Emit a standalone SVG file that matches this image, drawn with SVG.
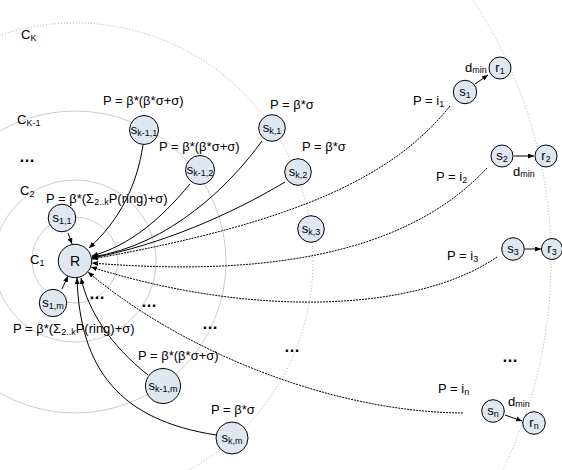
<svg xmlns="http://www.w3.org/2000/svg" width="562" height="470" viewBox="0 0 562 470">
<style>
text{font-family:"Liberation Sans",Arial,sans-serif;fill:#000;}
.lbl{font-size:13px;}
.sub{font-size:9px;}
.node{fill:#dfe7f3;stroke:#000;stroke-width:1;}
.nt{font-size:13px;text-anchor:middle;}
.ring{fill:none;stroke:#cccccc;stroke-width:1;}
.dring{fill:none;stroke:#a8a8a8;stroke-width:1;stroke-dasharray:1 2;}
.solid{fill:none;stroke:#000;stroke-width:1;marker-end:url(#ah);}
.dot{fill:none;stroke:#000;stroke-width:1;stroke-dasharray:2 1;marker-end:url(#ah);}
.dots{font-size:16px;font-weight:bold;}
</style>
<defs>
<marker id="ah" markerWidth="6" markerHeight="5" refX="6" refY="2.5" orient="auto" markerUnits="userSpaceOnUse">
<path d="M0,0 L6,2.5 L0,5 z" fill="#000"/>
</marker>
</defs>
<rect width="562" height="470" fill="#fff"/>
<g id="rings">
<circle class="ring" cx="75" cy="260" r="43"/>
<circle class="ring" cx="75" cy="261" r="81"/>
<circle class="ring" cx="75" cy="262" r="151"/>
<circle class="dring" cx="75" cy="261" r="238"/>
<circle class="dring" cx="75" cy="261" r="476"/>
</g>
<g id="ring-labels">
<text class="lbl" x="21" y="39">C<tspan class="sub" dy="2">K</tspan></text>
<text class="lbl" x="17" y="124">C<tspan class="sub" dy="2">K-1</tspan></text>
<text class="lbl" x="20" y="195">C<tspan class="sub" dy="2">2</tspan></text>
<text class="lbl" x="30" y="264">C<tspan class="sub" dy="2">1</tspan></text>
<text class="dots" x="19" y="162">…</text>
<text class="dots" x="89" y="299">…</text>
<text class="dots" x="141" y="307">…</text>
<text class="dots" x="202" y="329">…</text>
<text class="dots" x="284" y="352">…</text>
<text class="dots" x="502" y="362">…</text>
</g>
<g id="connectors">
<path class="solid" d="M143,145 C137,185 120,220 89,248"/>
<path class="solid" d="M190,184 C160,220 130,245 92,256"/>
<path class="solid" d="M262,141 C230,185 170,245 92,257"/>
<path class="solid" d="M285,182 C230,215 160,245 92,258"/>
<path class="dot" d="M450,106 C395,175 300,222 92,259"/>
<path class="dot" d="M487,168 C420,240 300,280 92,263"/>
<path class="dot" d="M497,257 C420,310 260,320 91,267"/>
<path class="dot" d="M463,413 C330,412 180,350 88,272"/>
<path class="solid" d="M148,375 C110,345 88,310 81,278"/>
<path class="solid" d="M216,435 C120,420 80,370 77,278"/>
<path class="solid" d="M68,233 L72,244"/>
<path class="solid" d="M62,289 L68,276"/>
<path class="solid" d="M475,84 L488,75"/>
<path class="solid" d="M514,156 L534,156"/>
<path class="solid" d="M525,249 L541,249"/>
<path class="solid" d="M505,415 L522,421"/>
</g>
<g id="R"><circle class="node" cx="75" cy="261" r="16.7"/><text class="nt" x="75" y="266" style="font-size:14px">R</text></g>
<g id="s11"><circle class="node" cx="62" cy="218" r="13.8"/><text class="nt" x="62" y="222">s<tspan class="sub" dy="2">1,1</tspan></text></g>
<g id="s1m"><circle class="node" cx="53" cy="303" r="13.7"/><text class="nt" x="53" y="307">s<tspan class="sub" dy="2">1,m</tspan></text></g>
<g id="sk-1_1"><circle class="node" cx="144" cy="130" r="14.5"/><text class="nt" x="144" y="134">s<tspan class="sub" dy="2">k-1,1</tspan></text></g>
<g id="sk-1_2"><circle class="node" cx="200" cy="170" r="14.5"/><text class="nt" x="200" y="174">s<tspan class="sub" dy="2">k-1,2</tspan></text></g>
<g id="sk-1_m"><circle class="node" cx="163" cy="386" r="17.5"/><text class="nt" x="163" y="390">s<tspan class="sub" dy="2">k-1,m</tspan></text></g>
<g id="sk_1"><circle class="node" cx="272" cy="128" r="13.3"/><text class="nt" x="272" y="132">s<tspan class="sub" dy="2">k,1</tspan></text></g>
<g id="sk_2"><circle class="node" cx="298" cy="172" r="13.3"/><text class="nt" x="298" y="176">s<tspan class="sub" dy="2">k,2</tspan></text></g>
<g id="sk_3"><circle class="node" cx="311" cy="229" r="13.3"/><text class="nt" x="311" y="233">s<tspan class="sub" dy="2">k,3</tspan></text></g>
<g id="sk_m"><circle class="node" cx="232" cy="438" r="16"/><text class="nt" x="232" y="442">s<tspan class="sub" dy="2">k,m</tspan></text></g>
<g id="s1"><circle class="node" cx="465" cy="92" r="11.7"/><text class="nt" x="465" y="96">s<tspan class="sub" dy="2">1</tspan></text></g>
<g id="r1"><circle class="node" cx="500" cy="68" r="11"/><text class="nt" x="500" y="72">r<tspan class="sub" dy="2">1</tspan></text></g>
<g id="s2"><circle class="node" cx="502" cy="156" r="11"/><text class="nt" x="502" y="160">s<tspan class="sub" dy="2">2</tspan></text></g>
<g id="r2"><circle class="node" cx="546" cy="156" r="11"/><text class="nt" x="546" y="160">r<tspan class="sub" dy="2">2</tspan></text></g>
<g id="s3"><circle class="node" cx="513" cy="249" r="11.3"/><text class="nt" x="513" y="253">s<tspan class="sub" dy="2">3</tspan></text></g>
<g id="r3"><circle class="node" cx="552" cy="249" r="10.5"/><text class="nt" x="552" y="253">r<tspan class="sub" dy="2">3</tspan></text></g>
<g id="sn"><circle class="node" cx="493" cy="411" r="11.3"/><text class="nt" x="493" y="415">s<tspan class="sub" dy="2">n</tspan></text></g>
<g id="rn"><circle class="node" cx="534" cy="423" r="11.3"/><text class="nt" x="534" y="427">r<tspan class="sub" dy="2">n</tspan></text></g>
<g id="labels">
<text class="lbl" x="103" y="105">P = β*(β*σ+σ)</text>
<text class="lbl" x="159" y="151">P = β*(β*σ+σ)</text>
<text class="lbl" x="270" y="109">P = β*σ</text>
<text class="lbl" x="302" y="151">P = β*σ</text>
<text class="lbl" x="46" y="203">P = β*(Σ<tspan class="sub" dy="2">2..k</tspan><tspan dy="-2">P(ring)+σ)</tspan></text>
<text class="lbl" x="13" y="333">P = β*(Σ<tspan class="sub" dy="2">2..k</tspan><tspan dy="-2">P(ring)+σ)</tspan></text>
<text class="lbl" x="138" y="360">P = β*(β*σ+σ)</text>
<text class="lbl" x="211" y="414">P = β*σ</text>
<text class="lbl" x="413" y="105">P = i<tspan class="sub" dy="2">1</tspan></text>
<text class="lbl" x="436" y="181">P = i<tspan class="sub" dy="2">2</tspan></text>
<text class="lbl" x="447" y="260">P = i<tspan class="sub" dy="2">3</tspan></text>
<text class="lbl" x="438" y="393">P = i<tspan class="sub" dy="2">n</tspan></text>
<text class="lbl" x="465" y="72">d<tspan class="sub" dy="1">min</tspan></text>
<text class="lbl" x="513" y="176">d<tspan class="sub" dy="1">min</tspan></text>
<text class="lbl" x="508" y="406">d<tspan class="sub" dy="1">min</tspan></text>
</g>
</svg>
